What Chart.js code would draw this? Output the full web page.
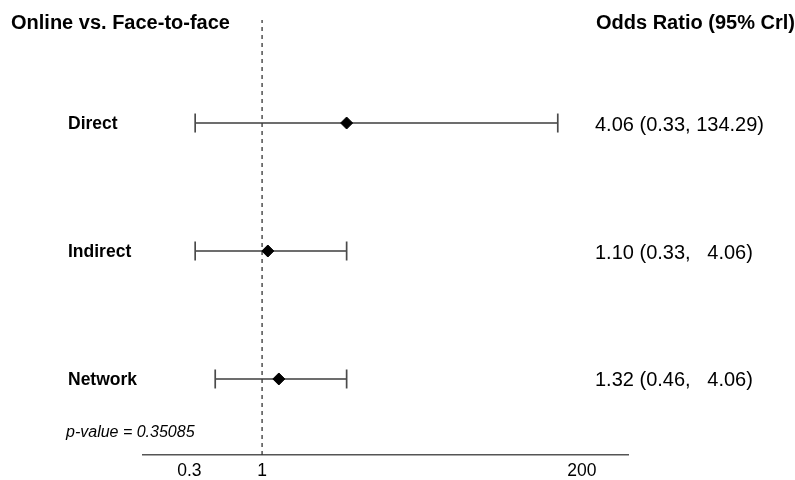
<!DOCTYPE html>
<html>
<head>
<meta charset="utf-8">
<script src="https://cdn.jsdelivr.net/npm/chart.js@4/dist/chart.umd.min.js"></script>
<style>
  html, body { margin: 0; padding: 0; background: #fff; }
  #wrap { width: 795px; height: 480px; position: relative; }
</style>
</head>
<body>
<div id="wrap"><canvas id="c"></canvas></div>
<script>
const rows = ['Direct', 'Indirect', 'Network'];
const rowPos = [3, 2, 1];
const estimates = [4.06, 1.10, 1.32];
const lower = [0.33, 0.33, 0.46];
const upper = [134.29, 4.06, 4.06];
const xTicks = [0.3, 1, 200];
const leftTitle = 'Online vs. Face-to-face';
const rightTitle = 'Odds Ratio (95% Crl)';
const pValueText = 'p-value = 0.35085';

const FONT = '"Liberation Sans", Arial, Helvetica, sans-serif';
const yMin = 0.406, yMax = 3.805;

const valueText = rows.map((r, i) =>
  estimates[i].toFixed(2) + ' (' + lower[i].toFixed(2) + ', ' + upper[i].toFixed(2).padStart(6, ' ') + ')'
);

const datasets = [];
// point estimates
datasets.push({
  type: 'scatter',
  data: rows.map((r, i) => ({ x: estimates[i], y: rowPos[i] })),
  pointStyle: 'rectRot',
  pointRadius: 6,
  pointBorderWidth: 1,
  backgroundColor: '#000',
  borderColor: '#000',
  order: 0
});
// credible intervals
rows.forEach((r, i) => {
  datasets.push({
    type: 'line',
    data: [{ x: lower[i], y: rowPos[i] }, { x: upper[i], y: rowPos[i] }],
    borderColor: '#3c3c3c',
    borderWidth: 1.7,
    pointStyle: 'line',
    rotation: 90,
    pointRadius: 9.5,
    pointBorderWidth: 1.7,
    pointBorderColor: '#4a4a4a',
    fill: false,
    order: 1
  });
});
// reference line at OR = 1
datasets.push({
  type: 'line',
  data: [{ x: 1, y: yMin }, { x: 1, y: yMax }],
  borderColor: '#333',
  borderWidth: 1.3,
  borderDash: [4, 4],
  pointRadius: 0,
  fill: false,
  order: 2
});

const textPlugin = {
  id: 'texts',
  afterDraw(chart) {
    const ctx = chart.ctx;
    const ys = chart.scales.y;
    ctx.save();
    ctx.fillStyle = '#000';
    ctx.textBaseline = 'middle';
    ctx.textAlign = 'left';
    ctx.font = 'bold 20px ' + FONT;
    ctx.fillText(leftTitle, 11, 23);
    ctx.fillText(rightTitle, 596, 23);
    rows.forEach((r, i) => {
      const y = ys.getPixelForValue(rowPos[i]);
      ctx.font = 'bold 17.5px ' + FONT;
      ctx.fillText(r, 68, y + 1);
      ctx.font = '20px ' + FONT;
      ctx.fillText(valueText[i], 595, y + 2);
    });
    ctx.font = 'italic 16px ' + FONT;
    ctx.fillText(pValueText, 66, 433);
    ctx.restore();
  }
};

new Chart(document.getElementById('c'), {
  data: { datasets },
  options: {
    responsive: true,
    maintainAspectRatio: false,
    animation: false,
    layout: { padding: { left: 143, right: 167, top: 20, bottom: 0 } },
    plugins: { legend: { display: false }, tooltip: { enabled: false } },
    scales: {
      x: {
        type: 'logarithmic',
        min: 0.139,
        max: 430,
        afterBuildTicks(scale) { scale.ticks = xTicks.map(v => ({ value: v })); },
        afterFit(scale) { scale.height = 25; },
        ticks: {
          callback: (v) => String(v),
          color: '#000',
          font: { family: FONT, size: 17.5 },
          padding: 6,
          maxRotation: 0,
          autoSkip: false
        },
        grid: { display: false, drawTicks: false },
        border: { display: true, color: '#555', width: 1.6 }
      },
      y: {
        type: 'linear',
        min: yMin,
        max: yMax,
        display: false
      }
    }
  },
  plugins: [textPlugin]
});
</script>
</body>
</html>
